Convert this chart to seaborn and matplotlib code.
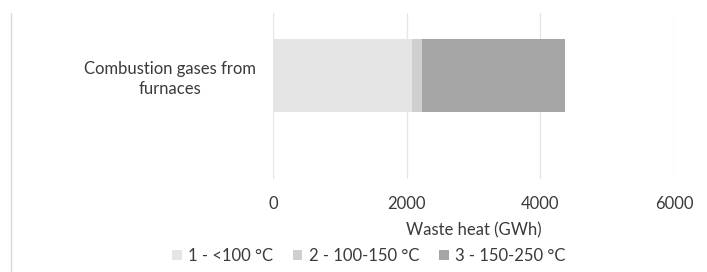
import matplotlib
matplotlib.use("Agg")
import matplotlib.pyplot as plt
import matplotlib.lines as mlines
import pandas as pd
import seaborn as sns

# data
category = ["Combustion gases from\nfurnaces"]
series_names = ["1 - <100 °C", "2 - 100-150 °C", "3 - 150-250 °C"]
series_values = [2075, 150, 2150]
series_colors = ["#e5e5e5", "#cfcfcf", "#a5a5a5"]
x_ticks = [0, 2000, 4000, 6000]

sns.set_theme(style="white")
plt.rcParams["font.family"] = ["Lato", "DejaVu Sans"]
FS = 12
TXT = "#3a3a3a"

fig = plt.figure(figsize=(7.07, 2.72), dpi=100)
ax = fig.add_axes([273 / 707, 93 / 272, 401 / 707, 166 / 272])

# stacked bars: draw cumulative totals from the top segment down
cum = pd.Series(series_values).cumsum().tolist()
for name, total, color in reversed(list(zip(series_names, cum, series_colors))):
    df = pd.DataFrame({"cat": category, "val": [total]})
    sns.barplot(data=df, x="val", y="cat", color=color, width=0.44,
                saturation=1, linewidth=0, ax=ax, label=name, zorder=3)

ax.set_xlim(0, 6000)
ax.set_ylim(0.6235, -0.3765)
ax.set_xticks(x_ticks)
ax.grid(axis="x", color="#e6e6e6", linewidth=1, zorder=0)
ax.grid(axis="y", visible=False)
for s in ax.spines.values():
    s.set_visible(False)
ax.tick_params(axis="x", length=0, pad=12.5, labelsize=FS, colors=TXT)
ax.tick_params(axis="y", length=0, pad=12, labelsize=FS, colors=TXT)
for t in ax.get_yticklabels():
    t.set_multialignment("center")
    t.set_linespacing(1.3)
ax.set_xlabel("Waste heat (GWh)", fontsize=FS, color=TXT, labelpad=7)
ax.set_ylabel("")

# left border line of the chart area
fig.add_artist(mlines.Line2D([11 / 707, 11 / 707], [0, 1 - 13 / 272],
                             color="#d9d9d9", linewidth=1))

handles, labels = ax.get_legend_handles_labels()
order = [labels.index(n) for n in series_names]
ax.legend([handles[i] for i in order], [labels[i] for i in order],
          loc="center", bbox_to_anchor=(369 / 707, 1 - 256 / 272),
          bbox_transform=fig.transFigure, ncol=3, frameon=False,
          fontsize=FS, handlelength=0.55, handleheight=0.55,
          handletextpad=0.4, columnspacing=1.2, labelcolor=TXT)

fig.savefig("out.png", dpi=100)
